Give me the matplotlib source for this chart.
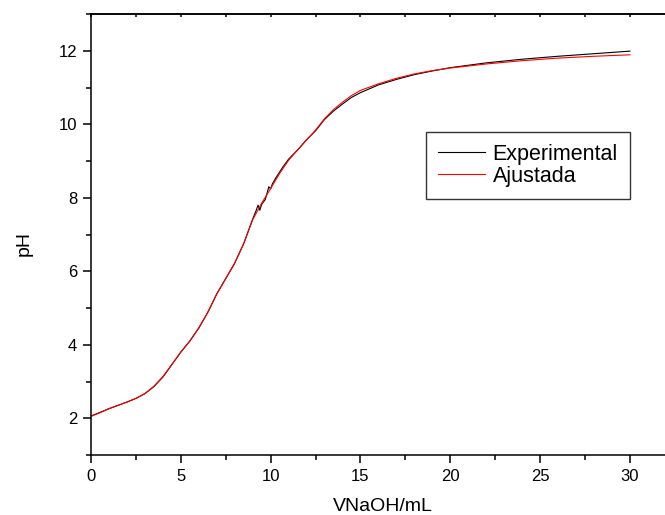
import matplotlib
matplotlib.use('Agg')
import matplotlib.pyplot as plt
from matplotlib.ticker import MultipleLocator

plt.rcParams['font.family'] = ['Liberation Sans', 'DejaVu Sans']

# experimental titration curve (VNaOH in mL, pH)
v_exp = [0, 0.5, 1, 1.5, 2, 2.5, 3, 3.5, 4, 4.5, 5, 5.5, 6, 6.5, 7, 7.5, 8, 8.5,
         9, 9.2, 9.3, 9.4, 9.5, 9.7, 9.9, 10.0, 10.1, 10.3, 10.5, 10.7, 11, 11.5,
         12, 12.5, 13, 13.5, 14, 14.5, 15, 16, 17, 18, 19, 20, 22, 24, 26, 28, 30]
ph_exp = [2.06, 2.16, 2.26, 2.35, 2.44, 2.54, 2.67, 2.86, 3.12, 3.46, 3.80, 4.10,
          4.45, 4.88, 5.38, 5.80, 6.22, 6.75, 7.42, 7.66, 7.80, 7.66, 7.82, 7.95,
          8.30, 8.24, 8.38, 8.55, 8.70, 8.85, 9.05, 9.30, 9.58, 9.82, 10.13, 10.36,
          10.55, 10.73, 10.86, 11.07, 11.22, 11.35, 11.45, 11.54, 11.67, 11.77,
          11.85, 11.92, 11.99]

# fitted curve
v_fit = [0, 0.5, 1, 1.5, 2, 2.5, 3, 3.5, 4, 4.5, 5, 5.5, 6, 6.5, 7, 7.5, 8, 8.5,
         9, 9.5, 10, 10.5, 11, 11.5, 12, 12.5, 13, 13.5, 14, 14.5, 15, 16, 17, 18,
         19, 20, 22, 24, 26, 28, 30]
ph_fit = [2.05, 2.15, 2.26, 2.35, 2.44, 2.54, 2.67, 2.87, 3.13, 3.46, 3.80, 4.10,
          4.46, 4.88, 5.38, 5.80, 6.22, 6.75, 7.40, 7.85, 8.25, 8.66, 9.02, 9.30,
          9.57, 9.84, 10.15, 10.40, 10.60, 10.78, 10.92, 11.10, 11.25, 11.37, 11.46,
          11.53, 11.64, 11.73, 11.80, 11.85, 11.89]

fig = plt.figure(figsize=(6.65, 5.15), dpi=100)
ax = fig.add_axes([0.1368, 0.1165, 0.878, 0.8563])

ax.plot(v_exp, ph_exp, color='black', linewidth=0.8, label='Experimental')
ax.plot(v_fit, ph_fit, color='red', linewidth=0.8, label='Ajustada')

ax.set_xlim(0, 32.5)
ax.set_ylim(1, 13)
ax.xaxis.set_major_locator(MultipleLocator(5))
ax.xaxis.set_minor_locator(MultipleLocator(2.5))
ax.yaxis.set_major_locator(MultipleLocator(2))
ax.yaxis.set_minor_locator(MultipleLocator(1))

ax.tick_params(which='major', direction='out', length=6, width=1.1, labelsize=12, pad=4)
ax.tick_params(which='minor', direction='out', length=3.5, width=1.1)
for s in ax.spines.values():
    s.set_linewidth(1.1)

# small inward ticks on the top axis
top = ax.secondary_xaxis('top')
top.xaxis.set_major_locator(MultipleLocator(2.5))
top.tick_params(direction='in', length=2.5, width=1.1, labeltop=False)
top.spines['top'].set_linewidth(1.1)

ax.set_xlabel('VNaOH/mL', fontsize=14)
ax.set_ylabel('pH', fontsize=14)
ax.xaxis.set_label_coords(0.5, -0.098)
ax.yaxis.set_label_coords(-0.1, 0.48)

leg = ax.legend(loc='upper left', bbox_to_anchor=(0.6406, 0.7437),
                bbox_transform=fig.transFigure, fontsize=15.5, frameon=True,
                fancybox=False, edgecolor='black', borderaxespad=0,
                handlelength=2.2, handletextpad=0.35, labelspacing=0.05,
                borderpad=0.55)
leg.get_frame().set_linewidth(1.0)

fig.savefig('out.png', dpi=100)
